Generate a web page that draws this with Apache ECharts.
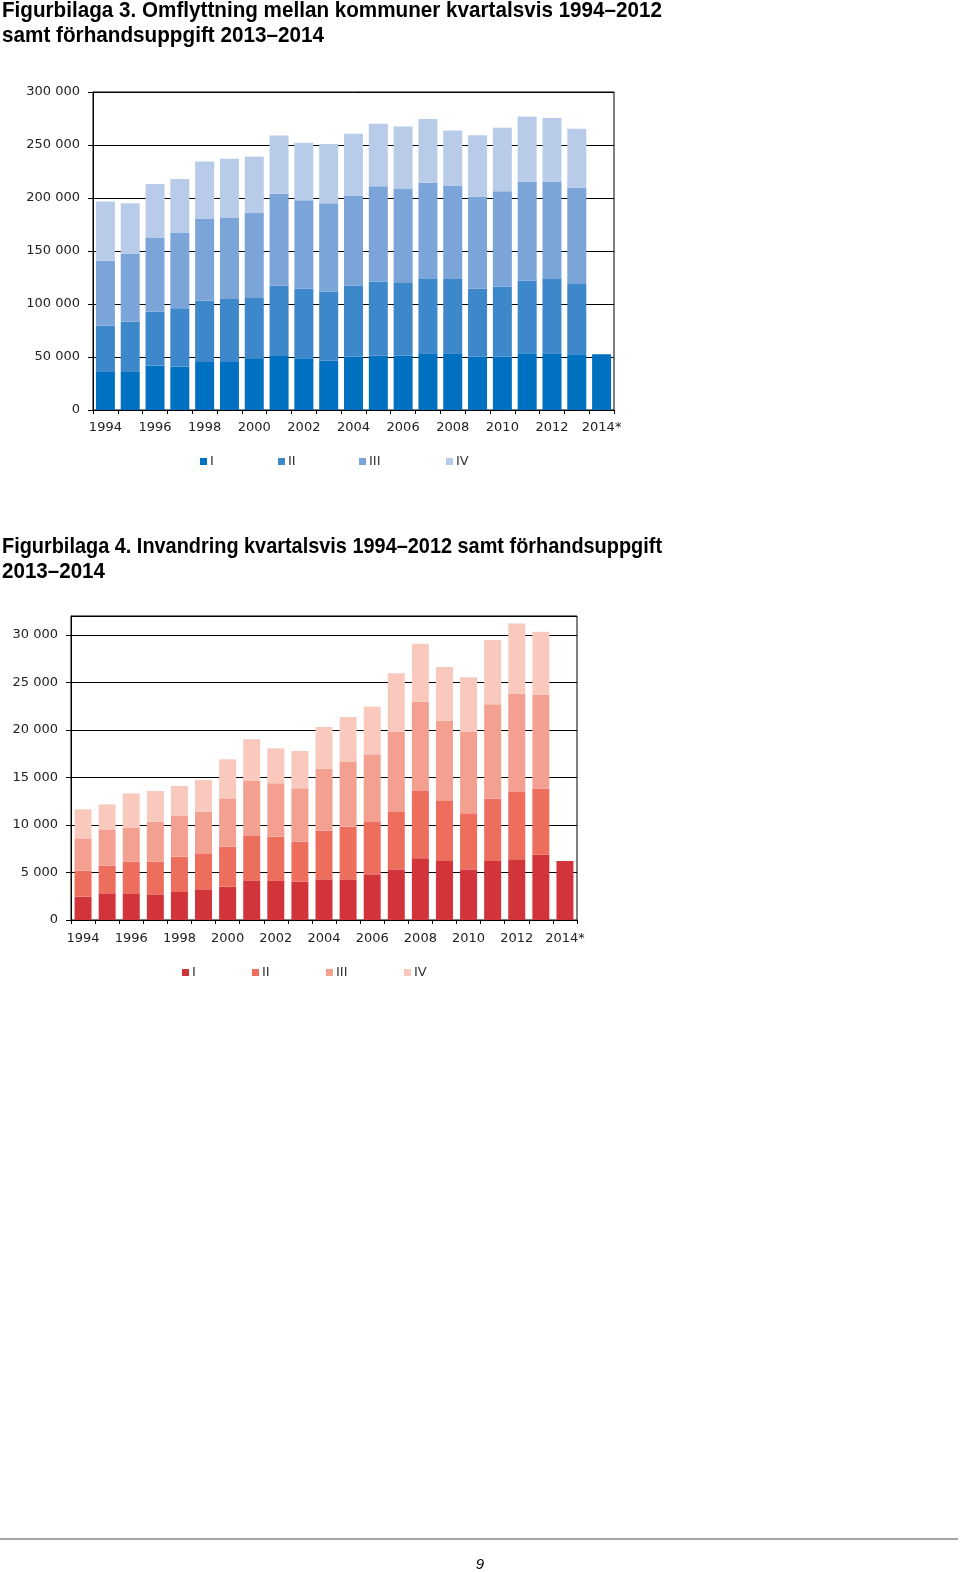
<!DOCTYPE html>
<html>
<head>
<meta charset="utf-8">
<script src="https://cdn.jsdelivr.net/npm/echarts@6/dist/echarts.min.js"></script>
<style>
html,body{margin:0;padding:0;background:#fff;}
#c{width:960px;height:1572px;}
</style>
</head>
<body>
<div id="c"></div>
<script>
const years = ['1994','1995','1996','1997','1998','1999','2000','2001','2002','2003','2004','2005','2006','2007','2008','2009','2010','2011','2012','2013','2014*'];
const quarterNames = ['I','II','III','IV'];

// Figurbilaga 3: Omflyttning mellan kommuner
const omfQ1 = [35900,35900,41900,41000,45400,45400,48200,51000,48800,46500,50400,51400,51400,53600,53600,50400,50400,53600,53600,52600,52600];
const omfQ2 = [43500,47300,51100,55100,57600,59200,57400,66200,65600,65200,67100,69900,68300,69900,69900,64000,66200,68300,69900,66200,null];
const omfQ3 = [61400,64000,69300,70900,77600,76600,80300,86700,83500,83300,84800,89800,88900,90800,88200,86900,89800,93600,92000,90800,null];
const omfQ4 = [55800,47800,51000,51000,53800,55800,53300,55100,54200,56000,58300,58900,58900,60200,52000,58000,59900,61500,59900,55700,null];

// Figurbilaga 4: Invandring
const invQ1 = [2460,2810,2810,2700,2950,3230,3510,4110,4110,4030,4280,4280,4810,5330,6490,6210,5330,6210,6390,6880,6210];
const invQ2 = [2740,2910,3330,3440,3720,3790,4210,4740,4670,4210,5120,5540,5510,6040,7090,6320,5900,6560,7090,6950,null];
const invQ3 = [3400,3820,3610,4210,4280,4390,5090,5830,5610,5620,6560,6810,7120,8420,9400,8460,8560,9930,10350,9900,null];
const invQ4 = [3050,2630,3580,3230,3160,3330,4110,4350,3680,3930,4350,4740,5020,6180,6110,5650,5750,6770,7370,6600,null];

const blueColors = ['#0070C0','#3D87CB','#7BA5D8','#B8CCE9'];
const redColors = ['#D1353A','#EE6E5E','#F4A091','#FAC9BE'];

const title1 = ['Figurbilaga 3. Omflyttning mellan kommuner kvartalsvis 1994–2012','samt förhandsuppgift 2013–2014'];
const title2 = ['Figurbilaga 4. Invandring kvartalsvis 1994–2012 samt förhandsuppgift','2013–2014'];

const chart = echarts.init(document.getElementById('c'), null, {renderer:'canvas'});

const fmt = v => String(v).replace(/\B(?=(\d{3})+(?!\d))/g, ' ');
const axisFont = {fontFamily:'DejaVu Sans', fontSize:13, color:'#222'};

function yAxis(gi, max, interval){
  return {
    type:'value', gridIndex:gi, min:0, max:max, interval:interval,
    axisLine:{show:true, lineStyle:{color:'#000', width:1}},
    axisTick:{show:true, length:5, lineStyle:{color:'#000'}},
    splitLine:{show:true, lineStyle:{color:'#000', width:1}},
    axisLabel:Object.assign({margin:13, formatter:fmt, showMaxLabel: max % interval === 0}, axisFont)
  };
}
function xAxis(gi, margin){
  return {
    type:'category', gridIndex:gi, data:years,
    axisLine:{show:true, lineStyle:{color:'#000', width:1}},
    axisTick:{show:true, interval:0, length:4, lineStyle:{color:'#000'}},
    axisLabel:Object.assign({interval:1, margin:margin}, axisFont)
  };
}

const omf = [omfQ1, omfQ2, omfQ3, omfQ4];
const inv = [invQ1, invQ2, invQ3, invQ4];
const series = [];
quarterNames.forEach((n,i)=>{
  series.push({name:n, type:'bar', stack:'omf', xAxisIndex:0, yAxisIndex:0, data:omf[i], barWidth:19,
    itemStyle:{color:blueColors[i]}, emphasis:{disabled:true}});
});
quarterNames.forEach((n,i)=>{
  series.push({name:n, type:'bar', stack:'inv', xAxisIndex:1, yAxisIndex:1, data:inv[i], barWidth:17,
    itemStyle:{color:redColors[i]}, emphasis:{disabled:true}});
});

const legend1X = [200, 278, 359, 446];
const legend2X = [182, 252, 326, 404];
const legends = [];
quarterNames.forEach((n,i)=>{
  legends.push({left:legend1X[i], top:455, padding:0, itemWidth:7, itemHeight:7, itemGap:0, selectedMode:false,
    icon:'rect', textStyle:{fontFamily:'DejaVu Sans', fontSize:13, color:'#333', padding:[0,0,0,-2]},
    data:[{name:n, itemStyle:{color:blueColors[i]}}]});
  legends.push({left:legend2X[i], top:966, padding:0, itemWidth:7, itemHeight:7, itemGap:0, selectedMode:false,
    icon:'rect', textStyle:{fontFamily:'DejaVu Sans', fontSize:13, color:'#333', padding:[0,0,0,-2]},
    data:[{name:n, itemStyle:{color:redColors[i]}}]});
});

// Titles: bold sans, horizontally condensed to the reference widths
const titleFontSize = 22;
const titleFontStr = 'bold ' + titleFontSize + 'px "Liberation Sans", Arial, sans-serif';
const mctx = document.createElement('canvas').getContext('2d');
mctx.font = titleFontStr;
function titleText(text, y, targetW){
  const w = mctx.measureText(text).width;
  return {type:'text', x:2, y:y, scaleX: targetW / w, scaleY:1,
    style:{text:text, font:titleFontStr, fill:'#000', textVerticalAlign:'middle'}};
}

chart.setOption({
  animation:false,
  backgroundColor:'#fff',
  legend:legends,
  grid:[
    {left:93, top:92, width:521, height:318, show:true, borderColor:'#000', borderWidth:1, containLabel:false},
    {left:71, top:616, width:506, height:304, show:true, borderColor:'#000', borderWidth:1, containLabel:false}
  ],
  xAxis:[xAxis(0, 11), xAxis(1, 12)],
  yAxis:[yAxis(0, 300000, 50000), yAxis(1, 32000, 5000)],
  series:series,
  graphic:[
    titleText(title1[0], 11, 660),
    titleText(title1[1], 36, 322),
    titleText(title2[0], 547, 660),
    titleText(title2[1], 572, 103),
    {type:'line', shape:{x1:0, y1:1539, x2:958, y2:1539}, style:{stroke:'#888', lineWidth:1.5}},
    {type:'text', x:480, y:1565, style:{text:'9', fontFamily:'Liberation Sans', fontStyle:'italic', fontSize:15, fill:'#000', textAlign:'center', textVerticalAlign:'middle'}}
  ]
});
</script>
</body>
</html>
